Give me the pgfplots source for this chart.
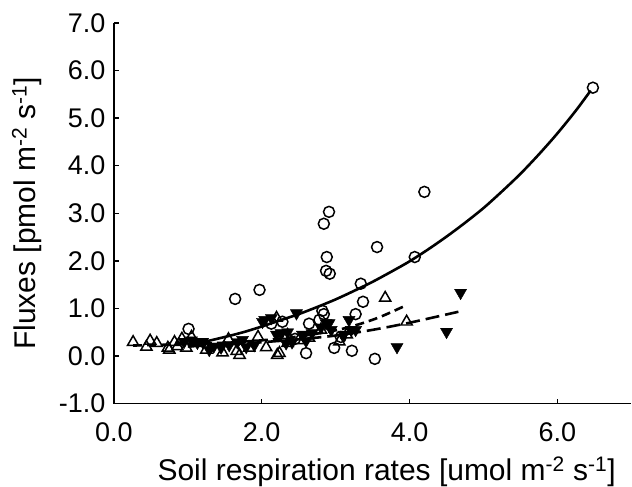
\documentclass[border=0pt]{standalone}
\usepackage{pgfplots}
\pgfplotsset{compat=1.18}
\usepackage{fontspec}
\setmainfont{Liberation Sans}
\begin{document}
\begin{tikzpicture}
\begin{axis}[
  scale only axis, width=518pt, height=381pt,
  xmin=0, xmax=7, ymin=-1, ymax=7,
  axis x line*=bottom, axis y line*=left,
  axis line style={line width=1.3pt, -},
  xtick={0,2,4,6}, ytick={-1,0,1,2,3,4,5,6,7},
  tick align=inside, major tick length=5pt,
  tick style={line width=1.3pt, black},
  /pgf/number format/fixed, /pgf/number format/fixed zerofill,
  /pgf/number format/precision=1, /pgf/number format/assume math mode=true,
  tick label style={font=\fontsize{27}{30}\selectfont},
  yticklabel style={xshift=-5pt},
  xticklabel style={yshift=-16pt},
  xlabel={Soil respiration rates [umol m\textsuperscript{-2} s\textsuperscript{-1}]},
  ylabel={Fluxes [pmol m\textsuperscript{-2} s\textsuperscript{-1}]},
  xlabel style={font=\fontsize{30}{34}\selectfont, at={(axis description cs:0.527,0)}, anchor=base, yshift=-77pt, inner sep=0pt},
  ylabel style={font=\fontsize{30}{34}\selectfont, at={(axis description cs:-0.168,0.5)}, anchor=center, inner sep=0pt},
  clip=false,
]
% open circles
\addplot[only marks, mark=o, mark size=5.5pt, mark options={line width=1.5pt, black}] coordinates {
(1.01,0.57) (1.64,1.20) (1.97,1.39) (2.13,0.68) (2.28,0.72) (2.45,0.36)
(2.60,0.06) (2.64,0.68) (2.78,0.76) (2.82,0.95) (2.84,0.88) (2.84,2.78)
(2.87,1.79) (2.88,2.08) (2.91,3.03) (2.92,1.73) (2.98,0.17) (3.07,0.40)
(3.22,0.11) (3.27,0.88) (3.34,1.52) (3.37,1.14) (3.53,-0.06) (3.56,2.29)
(4.07,2.08) (4.20,3.45) (6.48,5.64)
};
% open triangles
\addplot[only marks, mark=triangle, mark size=6.5pt, mark options={line width=1.5pt, black}] coordinates {
(0.26,0.29) (0.44,0.19) (0.49,0.32) (0.58,0.27) (0.73,0.17) (0.75,0.13)
(0.82,0.29) (0.86,0.20) (0.92,0.36) (0.98,0.17) (1.05,0.40) (1.25,0.13)
(1.47,0.07) (1.55,0.35) (1.66,0.10) (1.70,0.02) (1.83,0.17) (1.95,0.40)
(2.06,0.18) (2.20,0.80) (2.21,0.02) (2.24,0.06) (2.35,0.27) (2.35,0.44)
(2.50,0.33) (2.64,0.38) (2.80,0.55) (3.05,0.30) (3.15,0.45) (3.67,1.22)
(3.96,0.72)
};
% filled down-triangles
\addplot[only marks, mark=triangle*, mark size=7pt, mark options={rotate=180, fill=black, draw=black}] coordinates {
(0.95,0.30) (1.05,0.33) (1.13,0.28) (1.20,0.30) (1.29,0.13) (1.35,0.20)
(1.45,0.18) (1.56,0.23) (1.67,0.29) (1.74,0.34) (1.79,0.19) (1.90,0.23)
(2.01,0.72) (2.04,0.76) (2.13,0.80) (2.20,0.45) (2.26,0.48) (2.33,0.27)
(2.35,0.50) (2.41,0.29) (2.47,0.90) (2.55,0.45) (2.60,0.32) (2.68,0.48)
(2.80,0.60) (2.87,0.69) (2.91,0.69) (2.94,0.55) (3.11,0.45) (3.18,0.76)
(3.21,0.55) (3.27,0.55) (3.83,0.19) (4.50,0.51) (4.69,1.33)
};
% fitted curves
\addplot[line width=2.6pt, black, smooth, no marks] coordinates {
(1.0,0.25) (1.25,0.31) (1.5,0.40) (1.75,0.50) (2.0,0.62) (2.25,0.75)
(2.5,0.88) (2.75,1.03) (3.0,1.19) (3.25,1.37) (3.5,1.56) (3.75,1.77)
(4.0,1.99) (4.25,2.24) (4.5,2.51) (4.75,2.80) (5.0,3.11) (5.25,3.46)
(5.5,3.83) (5.75,4.24) (6.0,4.68) (6.25,5.16) (6.45,5.58)
};
\addplot[line width=2.6pt, black, smooth, no marks, dash pattern=on 9pt off 5pt] coordinates {
(0.26,0.22) (1.0,0.25) (1.5,0.28) (2.0,0.33) (2.5,0.41) (3.0,0.54)
(3.3,0.66) (3.6,0.82) (3.96,1.07)
};
\addplot[line width=2.6pt, black, smooth, no marks, dash pattern=on 14pt off 6pt] coordinates {
(1.0,0.20) (1.5,0.24) (2.0,0.29) (2.5,0.35) (3.0,0.43) (3.5,0.55)
(4.0,0.70) (4.66,0.93)
};
\end{axis}
\path ([xshift=-114pt,yshift=23pt]current axis.north west);
\end{tikzpicture}
\end{document}
